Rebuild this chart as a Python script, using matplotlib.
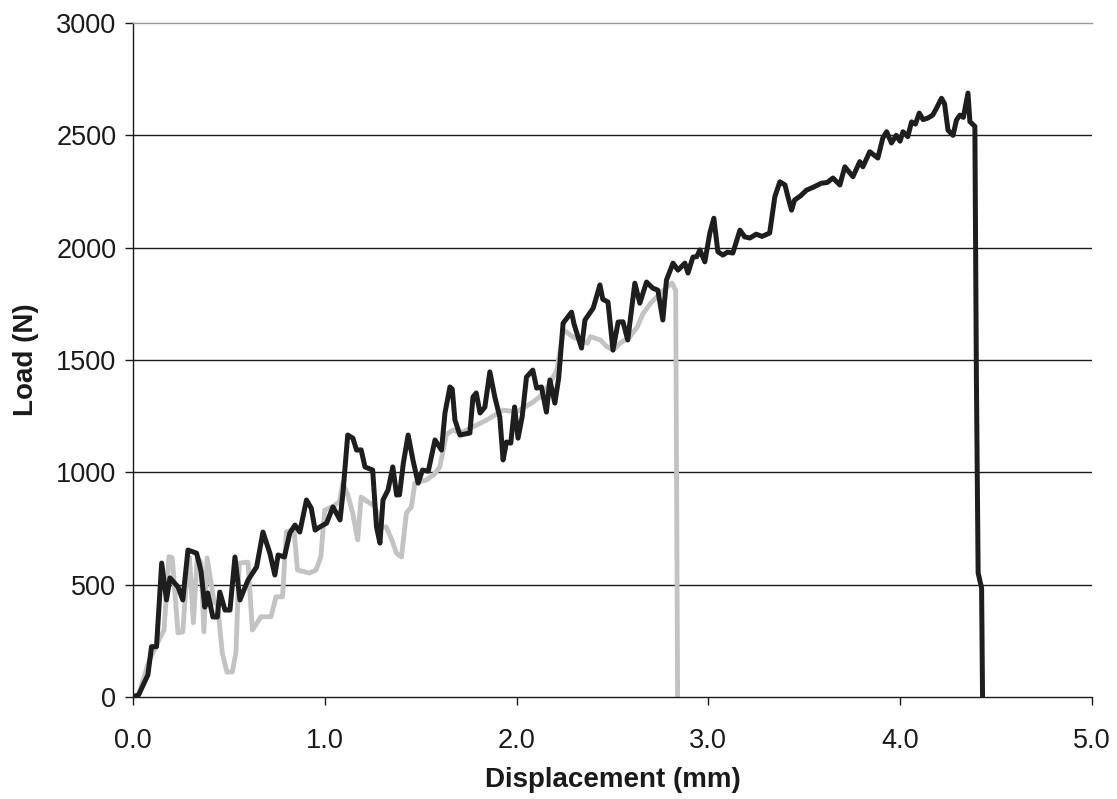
import matplotlib
matplotlib.use("Agg")
import matplotlib.pyplot as plt

plt.rcParams['font.family'] = ['Liberation Sans', 'DejaVu Sans']

# Specimen 1 (black)
black_x = [0.0, 0.03, 0.078, 0.097, 0.123, 0.15, 0.175, 0.193, 0.235, 0.26, 0.287, 0.332, 0.355,
           0.375, 0.39, 0.417, 0.44, 0.453, 0.48, 0.506, 0.532, 0.558, 0.6, 0.645, 0.678, 0.714,
           0.74, 0.757, 0.79, 0.818, 0.845, 0.87, 0.905, 0.93, 0.95, 0.975, 1.01, 1.043, 1.08,
           1.095, 1.12, 1.147, 1.166, 1.19, 1.21, 1.25, 1.27, 1.288, 1.304, 1.33, 1.355, 1.375,
           1.39, 1.41, 1.435, 1.46, 1.487, 1.51, 1.54, 1.575, 1.609, 1.627, 1.653, 1.665, 1.679,
           1.705, 1.757, 1.773, 1.79, 1.81, 1.835, 1.861, 1.887, 1.913, 1.93, 1.948, 1.97, 1.99,
           2.008, 2.03, 2.052, 2.085, 2.105, 2.13, 2.156, 2.174, 2.2, 2.22, 2.243, 2.287, 2.3,
           2.339, 2.357, 2.4, 2.435, 2.45, 2.477, 2.503, 2.53, 2.555, 2.58, 2.617, 2.643, 2.678,
           2.71, 2.737, 2.763, 2.782, 2.816, 2.842, 2.878, 2.894, 2.92, 2.94, 2.956, 2.982, 3.008,
           3.029, 3.05, 3.076, 3.1, 3.128, 3.165, 3.19, 3.217, 3.25, 3.28, 3.32, 3.347, 3.373,
           3.4, 3.415, 3.434, 3.45, 3.48, 3.512, 3.55, 3.59, 3.62, 3.65, 3.686, 3.712, 3.754,
           3.79, 3.806, 3.842, 3.884, 3.91, 3.93, 3.955, 3.98, 4.0, 4.015, 4.04, 4.06, 4.08, 4.1,
           4.12, 4.145, 4.17, 4.19, 4.216, 4.232, 4.25, 4.276, 4.294, 4.312, 4.33, 4.354, 4.364,
           4.39, 4.398, 4.407, 4.425, 4.43]
black_y = [0, 10, 98, 224, 224, 596, 432, 530, 490, 432, 654, 640, 560,
           400, 463, 356, 356, 467, 387, 387, 623, 432, 520, 579, 734, 640,
           543, 632, 623, 730, 765, 734, 877, 840, 743, 757, 774, 846, 788,
           908, 1166, 1152, 1099, 1100, 1024, 1010, 757, 685, 877, 921, 1024, 899,
           900, 1041, 1166, 1055, 952, 1010, 1005, 1144, 1099, 1264, 1380, 1370, 1233,
           1166, 1175, 1335, 1353, 1264, 1290, 1447, 1335, 1246, 1055, 1135, 1130, 1291,
           1152, 1250, 1424, 1455, 1375, 1380, 1268, 1411, 1308, 1420, 1664, 1713, 1660,
           1553, 1678, 1731, 1834, 1770, 1758, 1544, 1669, 1670, 1589, 1842, 1753, 1847,
           1820, 1811, 1678, 1856, 1931, 1900, 1931, 1887, 1958, 1960, 1990, 1937, 2065,
           2131, 1982, 1967, 1980, 1976, 2078, 2048, 2043, 2060, 2050, 2065, 2227, 2293,
           2279, 2227, 2167, 2212, 2230, 2256, 2270, 2287, 2290, 2310, 2279, 2360, 2316,
           2383, 2360, 2427, 2399, 2488, 2516, 2466, 2500, 2474, 2516, 2494, 2560, 2550, 2599,
           2570, 2577, 2590, 2621, 2665, 2640, 2523, 2500, 2568, 2590, 2580, 2688, 2561,
           2540, 1411, 552, 485, 0]

# Specimen 2 (grey)
grey_x = [0.0, 0.03, 0.08, 0.104, 0.136, 0.162, 0.188, 0.205, 0.235, 0.26, 0.28, 0.295, 0.315,
          0.335, 0.355, 0.37, 0.387, 0.424, 0.44, 0.466, 0.49, 0.518, 0.537, 0.554, 0.6, 0.623,
          0.668, 0.72, 0.746, 0.78, 0.8, 0.84, 0.858, 0.92, 0.955, 0.98, 1.0, 1.04, 1.077, 1.094,
          1.12, 1.146, 1.172, 1.19, 1.224, 1.26, 1.3, 1.32, 1.35, 1.374, 1.4, 1.426, 1.452, 1.47,
          1.53, 1.57, 1.6, 1.635, 1.67, 1.705, 1.773, 1.845, 1.93, 2.0, 2.087, 2.12, 2.176, 2.21,
          2.245, 2.296, 2.37, 2.385, 2.437, 2.472, 2.505, 2.54, 2.59, 2.63, 2.66, 2.7, 2.75,
          2.786, 2.81, 2.83, 2.84]
grey_y = [0, 10, 150, 196, 254, 298, 625, 620, 285, 290, 530, 620, 330,
          620, 600, 290, 619, 418, 420, 196, 111, 111, 196, 596, 600, 298,
          357, 357, 446, 446, 736, 743, 565, 552, 565, 625, 832, 846, 869, 952,
          900, 819, 699, 890, 869, 850, 757, 757, 700, 640, 623, 819, 846, 952,
          966, 990, 1024, 1170, 1188, 1175, 1202, 1233, 1277, 1268, 1313, 1335, 1398, 1455,
          1633, 1602, 1575, 1604, 1589, 1559, 1545, 1575, 1602, 1648, 1707, 1753, 1798,
          1825, 1843, 1811, 0]

x_ticks = [0.0, 1.0, 2.0, 3.0, 4.0, 5.0]
x_ticklabels = ["0.0", "1.0", "2.0", "3.0", "4.0", "5.0"]
y_ticks = [0, 500, 1000, 1500, 2000, 2500, 3000]

fig = plt.figure(figsize=(11.17, 7.99), dpi=100)
ax = fig.add_axes([0.119, 0.1277, 0.8585, 0.8435])

for yv in y_ticks[1:-1]:
    ax.axhline(yv, color='#1a1a1a', linewidth=1.0, zorder=1)

ax.plot(grey_x, grey_y, color='#c3c3c3', linewidth=3.5, zorder=2,
        solid_joinstyle='round', solid_capstyle='butt')
ax.plot(black_x, black_y, color='#1e1e1e', linewidth=3.6, zorder=3,
        solid_joinstyle='round', solid_capstyle='butt')

ax.set_xlim(0, 5.0)
ax.set_ylim(0, 3000)
ax.set_xticks(x_ticks)
ax.set_xticklabels(x_ticklabels)
ax.set_yticks(y_ticks)
ax.tick_params(axis='both', direction='out', length=6, width=1.0, labelsize=19.5,
               colors='#1a1a1a')
ax.tick_params(axis='x', pad=16)
ax.tick_params(axis='y', pad=6)

ax.spines['right'].set_visible(False)
ax.spines['top'].set_color('#999999')
ax.spines['left'].set_color('#1a1a1a')
ax.spines['bottom'].set_color('#1a1a1a')
for s in ['top', 'left', 'bottom']:
    ax.spines[s].set_linewidth(1.0)

ax.set_xlabel("Displacement (mm)", fontsize=20, fontweight='bold', color='#1a1a1a', labelpad=10)
ax.set_ylabel("Load (N)", fontsize=20, fontweight='bold', color='#1a1a1a', labelpad=12)

fig.savefig("out.png", dpi=100)
